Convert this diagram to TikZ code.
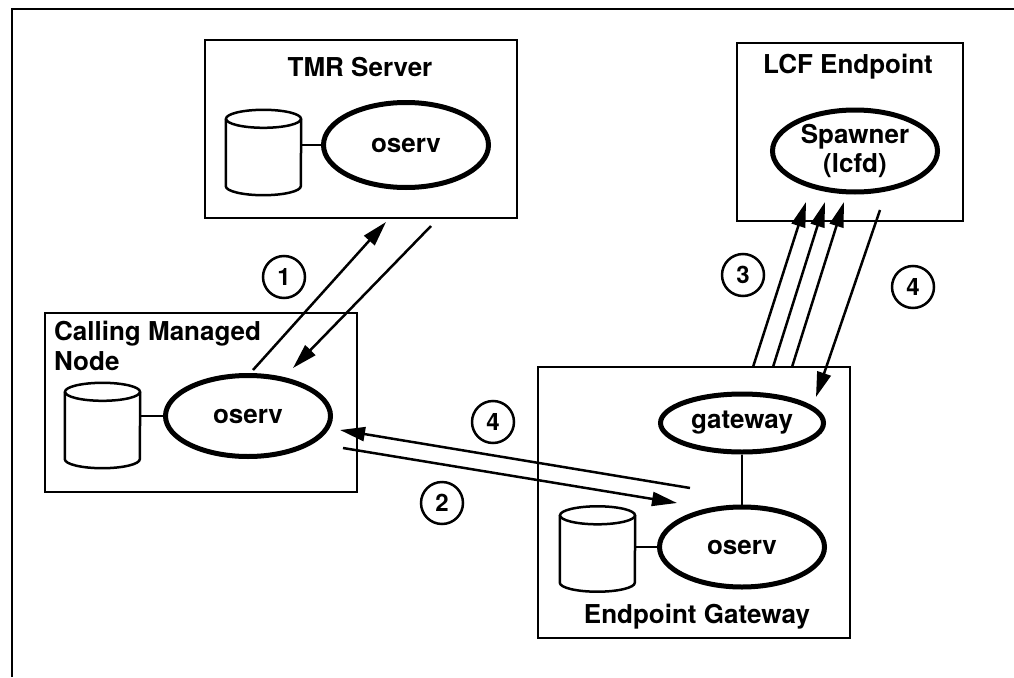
\documentclass[tikz,border=0pt]{standalone}
\usepackage{fontspec}
\setmainfont{TeX Gyre Heros}
\usepackage{tikz}
\usetikzlibrary{shapes.geometric,arrows.meta}

\begin{document}
\begin{tikzpicture}[x=1pt,y=-1pt,
	box/.style={shape=rectangle, draw=black, line width=2.5pt, inner sep=0pt},
	proc/.style={shape=ellipse, draw=black, line width=5pt, inner sep=0pt, align=center, font=\fontsize{26}{29}\selectfont\bfseries},
	db/.style={shape=rectangle, inner sep=0pt, minimum width=75pt, minimum height=85pt},
	dbline/.style={line width=2.5pt},
	title/.style={inner sep=0pt, font=\fontsize{26}{30}\selectfont\bfseries},
	num/.style={shape=circle, draw=black, line width=2.5pt, minimum size=42pt, inner sep=0pt, font=\fontsize{24}{24}\selectfont\bfseries},
	msg/.style={line width=2.5pt, -{Triangle[length=25pt,width=14pt]}}]
				\useasboundingbox (0,0) rectangle (1014,677);
				\draw[line width=2.5pt] (12,677) -- (12,9) -- (1014,9);
				% the four machines
				\node[box, minimum width=312pt, minimum height=178pt] (tmr) at (361,129) {};
				\node[box, minimum width=226pt, minimum height=178pt] (lcf) at (850,132) {};
				\node[box, minimum width=312pt, minimum height=179pt] (cmn) at (201,402.5) {};
				\node[box, minimum width=312pt, minimum height=271pt] (eg) at (694,502.5) {};
				\node[title] (tmrt) at (360,67) {TMR Server};
				\node[title] (lcft) at (848,67) {LCF Endpoint};
				\node[title, anchor=north west, align=left] (cmnt) at (54,321) {Calling Managed\\Node};
				\node[title] (egt) at (697,617) {Endpoint Gateway};
				% processes and databases
				\node[proc, minimum width=165pt, minimum height=85pt] (so) at (406,145) {oserv};
				\node[db] (sd) at (263.5,152.5) {};
				\node[proc, minimum width=165pt, minimum height=82pt] (sp) at (855,151) {Spawner\\(lcfd)};
				\node[proc, minimum width=165pt, minimum height=81pt] (co) at (248,416) {oserv};
				\node[db] (cd) at (102.5,425.5) {};
				\node[proc, minimum width=163pt, minimum height=58pt] (gw) at (742,423) {gateway};
				\node[proc, minimum width=165pt, minimum height=80pt] (go) at (742,547) {oserv};
				\node[db] (gd) at (597.5,549) {};
				\foreach \d in {sd,cd,gd} {
					\draw[dbline] ([yshift=-9pt]\d.north) ellipse [x radius=37.5pt, y radius=9pt];
					\draw[dbline] ([yshift=-9pt]\d.north west) -- ([yshift=9pt]\d.south west)
						arc[start angle=180, end angle=360, x radius=37.5pt, y radius=9pt] -- ([yshift=-9pt]\d.north east);
				}
				\draw[dbline] (sd.east |- so.west) -- (so.west);
				\draw[dbline] (cd.east |- co.west) -- (co.west);
				\draw[dbline] (gd.east |- go.west) -- (go.west);
				\draw[dbline] (gw) -- (go);
				% message ends
				\coordinate (u1) at (253,370); \coordinate (v1) at (386,222);
				\coordinate (u2) at (431,226); \coordinate (v2) at (293,368);
				\coordinate (u3) at (343,448); \coordinate (v3) at (677,503);
				\coordinate (u4) at (690,488); \coordinate (v4) at (340,430);
				\coordinate (u5) at (753,367); \coordinate (v5) at (806,202);
				\coordinate (u6) at (773,367); \coordinate (v6) at (825,202);
				\coordinate (u7) at (792,367); \coordinate (v7) at (844,202);
				\coordinate (u8) at (880,210); \coordinate (v8) at (816,397);
				\path[msg] (u1) edge (v1);
				\path[msg] (u2) edge (v2);
				\path[msg] (u3) edge (v3);
				\path[msg] (u4) edge (v4);
				\path[msg] (u5) edge (v5);
				\path[msg] (u6) edge (v6);
				\path[msg] (u7) edge (v7);
				\path[msg] (u8) edge (v8);
				% step numbers
				\node[num] (n1) at (284,277) {1};
				\node[num] (n3) at (743,275) {3};
				\node[num] (n4a) at (913,287) {4};
				\node[num] (n4b) at (493,422) {4};
				\node[num] (n2) at (442,503) {2};
			\end{tikzpicture}
\end{document}
